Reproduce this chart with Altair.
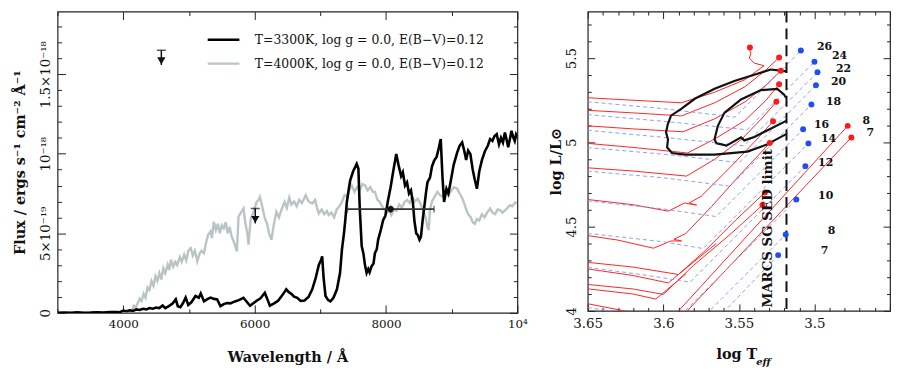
import altair as alt
import pandas as pd

FONT = "DejaVu Serif"

# ---------------- Left panel: model spectra (flux in units of 1e-19 erg/s/cm2/A) ----------------
spec_3300 = [
    (3000, 0.00), (3100, 0.02), (3200, 0.00), (3300, 0.03), (3400, 0.01), (3500, 0.02), (3600, 0.04),
    (3700, 0.02), (3800, 0.05), (3900, 0.06), (3950, 0.04), (4000, 0.14), (4050, 0.10), (4100, 0.16),
    (4150, 0.12), (4200, 0.22), (4250, 0.18), (4300, 0.26), (4350, 0.22), (4400, 0.30), (4450, 0.26),
    (4500, 0.34), (4550, 0.30), (4600, 0.46), (4640, 0.30), (4700, 0.44), (4750, 0.58), (4800, 0.85),
    (4830, 0.42), (4870, 0.36), (4910, 0.62), (4950, 0.96), (4990, 0.50), (5040, 0.68), (5100, 1.06),
    (5150, 0.95), (5180, 1.22), (5230, 0.72), (5280, 0.86), (5330, 0.96), (5380, 0.88), (5430, 0.85),
    (5480, 0.42), (5530, 0.55), (5580, 0.62), (5630, 0.60), (5700, 0.72), (5760, 0.80), (5830, 0.94),
    (5880, 0.70), (5930, 0.45), (5980, 0.60), (6030, 0.76), (6090, 0.92), (6155, 1.26), (6200, 0.80),
    (6231, 0.45), (6290, 0.58), (6357, 0.76), (6420, 1.10), (6482, 1.48), (6520, 1.30), (6560, 1.20),
    (6600, 1.02), (6650, 0.95), (6700, 0.75), (6760, 0.78), (6820, 1.00), (6877, 1.48), (6930, 2.20),
    (6978, 3.03), (7010, 3.30), (7028, 3.55), (7050, 2.20), (7079, 1.06), (7120, 0.80), (7154, 0.72),
    (7200, 0.95), (7253, 1.48), (7300, 2.50), (7329, 3.97), (7360, 5.00), (7380, 5.83), (7404, 6.97),
    (7430, 7.70), (7455, 8.33), (7500, 8.90), (7554, 9.36), (7580, 9.05), (7600, 6.60), (7630, 4.20),
    (7655, 3.75), (7680, 3.00), (7705, 2.51), (7730, 2.75), (7750, 2.55), (7780, 2.93), (7810, 3.10),
    (7831, 3.75), (7860, 4.00), (7880, 4.59), (7920, 5.20), (7956, 5.83), (7990, 6.10), (8031, 7.08),
    (8070, 7.90), (8110, 8.90), (8156, 9.98), (8190, 9.30), (8230, 8.60), (8256, 8.84), (8290, 8.00),
    (8320, 8.20), (8350, 7.50), (8380, 7.70), (8410, 6.90), (8432, 5.80), (8460, 5.00), (8482, 4.90),
    (8510, 4.60), (8532, 4.79), (8560, 5.90), (8583, 6.66), (8610, 7.60), (8632, 8.22), (8670, 8.50),
    (8700, 9.20), (8733, 9.57), (8770, 9.80), (8800, 10.30), (8833, 10.92), (8860, 8.50), (8884, 6.97),
    (8920, 7.80), (8950, 7.50), (8983, 8.22), (9030, 9.30), (9084, 10.09), (9120, 10.50), (9159, 10.71),
    (9190, 10.20), (9220, 9.60), (9250, 10.20), (9284, 9.98), (9320, 9.00), (9350, 8.40), (9384, 7.80),
    (9420, 8.90), (9460, 9.60), (9509, 10.19), (9550, 10.50), (9584, 10.92), (9620, 10.80), (9650, 11.10),
    (9685, 11.23), (9720, 10.60), (9750, 11.00), (9780, 10.70), (9810, 11.33), (9840, 10.80), (9860, 10.40),
    (9890, 11.00), (9910, 11.44), (9940, 11.00), (9960, 10.80), (9980, 11.20), (10000, 11.02),
]

spec_4000 = [
    (3000, 0.0), (3300, 0.0), (3600, 0.01), (3900, 0.02), (4000, 0.04), (4050, 0.08), (4100, 0.18),
    (4130, 0.12), (4160, 0.45), (4190, 0.35), (4220, 0.6), (4250, 0.9), (4280, 0.75), (4310, 1.2),
    (4340, 0.95), (4370, 1.6), (4400, 1.45), (4430, 2.0), (4460, 1.7), (4490, 2.3), (4520, 2.0),
    (4550, 2.5), (4580, 2.1), (4610, 2.8), (4640, 2.5), (4677, 3.03), (4700, 2.7), (4727, 3.34),
    (4760, 2.9), (4790, 3.2), (4820, 3.0), (4860, 3.5), (4890, 3.2), (4928, 3.66), (4960, 3.3),
    (4990, 3.9), (5027, 4.07), (5060, 3.6), (5090, 3.9), (5128, 3.24), (5160, 3.7), (5190, 3.9),
    (5229, 3.75), (5260, 4.4), (5290, 4.9), (5328, 5.11), (5350, 4.7), (5379, 5.73), (5410, 5.2),
    (5440, 5.6), (5470, 5.0), (5500, 5.5), (5530, 5.31), (5560, 5.7), (5590, 5.0), (5620, 5.4),
    (5650, 4.8), (5690, 4.4), (5730, 3.86), (5755, 6.04), (5790, 6.3), (5831, 6.56), (5860, 5.6),
    (5890, 5.0), (5906, 4.28), (5940, 5.9), (5980, 6.3), (6031, 6.97), (6060, 7.1), (6080, 7.29),
    (6110, 6.8), (6155, 5.93), (6190, 5.6), (6220, 5.0), (6256, 4.59), (6290, 5.5), (6331, 6.35),
    (6370, 6.0), (6410, 6.5), (6456, 6.97), (6490, 6.6), (6527, 7.25), (6560, 6.8), (6600, 7.0),
    (6640, 6.7), (6680, 7.1), (6720, 6.9), (6778, 7.39), (6820, 7.0), (6877, 6.87), (6920, 7.1),
    (6950, 6.6), (6978, 6.25), (7020, 6.5), (7060, 6.2), (7100, 6.4), (7128, 6.15), (7170, 6.3),
    (7210, 6.0), (7250, 6.5), (7290, 6.7), (7329, 6.97), (7370, 7.4), (7410, 7.3), (7450, 7.8),
    (7479, 8.01), (7520, 7.6), (7560, 7.9), (7600, 7.7), (7640, 8.1), (7680, 8.01), (7720, 7.7),
    (7760, 7.9), (7800, 7.6), (7831, 7.6), (7870, 7.1), (7900, 7.0), (7930, 6.77), (7970, 6.5),
    (8010, 6.3), (8050, 6.4), (8081, 6.15), (8120, 6.5), (8160, 6.4), (8200, 6.8), (8240, 6.6),
    (8282, 6.97), (8320, 7.1), (8360, 6.9), (8400, 7.3), (8440, 7.0), (8482, 7.18), (8520, 6.9),
    (8560, 6.5), (8600, 6.0), (8630, 5.4), (8650, 5.21), (8670, 6.5), (8700, 7.0), (8740, 7.3),
    (8783, 7.6), (8820, 7.4), (8860, 7.3), (8900, 7.6), (8940, 7.4), (8983, 7.6), (9030, 7.9),
    (9084, 7.8), (9120, 7.5), (9150, 7.3), (9184, 6.97), (9220, 6.5), (9250, 6.2), (9284, 6.04),
    (9320, 5.7), (9350, 5.6), (9384, 5.9), (9420, 5.8), (9460, 6.2), (9500, 6.0), (9540, 6.3),
    (9584, 6.56), (9620, 6.3), (9660, 6.2), (9700, 6.5), (9735, 6.46), (9770, 6.3), (9800, 6.4),
    (9850, 6.6), (9885, 6.77), (9920, 6.7), (9960, 6.9), (10000, 6.9),
]

model_names = ["T=3300K, log g = 0.0, E(B\u2212V)=0.12", "T=4000K, log g = 0.0, E(B\u2212V)=0.12"]
model_colors = ["#000000", "#b9c5c2"]

# photometric upper limits (arrow) and one photometric point with error bars
limit_wave = [4580, 6010]
limit_top = [16.50, 6.56]
limit_tip = [15.58, 5.62]

phot_wave = [8071]
phot_wave_lo = [7414]
phot_wave_hi = [8732]
phot_flux = [6.52]
phot_flux_lo = [6.30]
phot_flux_hi = [6.74]

wl_major = [4000, 6000, 8000, 10000]
wl_minor = [3000, 5000, 7000, 9000]
flux_major = [0, 5, 10, 15]
flux_minor = [v for v in range(1, 19) if v % 5 != 0]

# ---------------- Right panel: HR diagram ----------------
red_tracks = {
    "26": [(3.65, 5.265), (3.62, 5.25), (3.588, 5.235), (3.566, 5.298), (3.546, 5.372), (3.5333, 5.455),
           (3.5398, 5.47), (3.5431, 5.50), (3.542, 5.53), (3.5431, 5.55), (3.5427, 5.563)],
    "24": [(3.65, 5.19), (3.62, 5.175), (3.588, 5.157), (3.566, 5.235), (3.546, 5.33), (3.532, 5.43), (3.5234, 5.504)],
    "22": [(3.65, 5.098), (3.62, 5.08), (3.587, 5.063), (3.566, 5.14), (3.546, 5.24), (3.532, 5.34), (3.5223, 5.425)],
    "20": [(3.65, 4.994), (3.62, 4.97), (3.584, 4.937), (3.566, 5.02), (3.546, 5.13), (3.532, 5.25), (3.5234, 5.345)],
    "18": [(3.65, 4.849), (3.62, 4.83), (3.5846, 4.80), (3.566, 4.90), (3.548, 5.02), (3.534, 5.15), (3.5252, 5.241)],
    "16": [(3.65, 4.661), (3.62, 4.63), (3.5967, 4.592), (3.586, 4.64), (3.578, 4.628), (3.583, 4.64),
           (3.575, 4.68), (3.556, 4.85), (3.54, 5.00), (3.5274, 5.125)],
    "14": [(3.65, 4.447), (3.63, 4.42), (3.6065, 4.372), (3.595, 4.415), (3.588, 4.415), (3.593, 4.425),
           (3.585, 4.46), (3.568, 4.62), (3.55, 4.80), (3.5296, 4.996)],
    "12": [(3.65, 4.288), (3.62, 4.26), (3.59, 4.216), (3.572, 4.36), (3.552, 4.54), (3.5328, 4.702)],
    "12b": [(3.65, 4.249), (3.62, 4.21), (3.5967, 4.166), (3.58, 4.29), (3.565, 4.40)],
    "10": [(3.65, 4.157), (3.62, 4.13), (3.60, 4.098), (3.58, 4.27), (3.555, 4.46), (3.5344, 4.628)],
    "10b": [(3.65, 4.131), (3.62, 4.10), (3.605, 4.07), (3.585, 4.22)],
    "8": [(3.66, 4.06), (3.62, 3.99), (3.595, 3.95), (3.478, 5.098)],
    "7": [(3.66, 3.97), (3.60, 3.85), (3.4756, 5.029)],
}

blue_tracks = {
    "26": [(3.65, 5.241), (3.60, 5.20), (3.5525, 5.15), (3.509, 5.545)],
    "24": [(3.65, 5.165), (3.60, 5.125), (3.5446, 5.075), (3.500, 5.478)],
    "22": [(3.65, 5.072), (3.60, 5.03), (3.5467, 4.98), (3.498, 5.416)],
    "20": [(3.65, 4.969), (3.60, 4.93), (3.5497, 4.88), (3.499, 5.339)],
    "18": [(3.65, 4.829), (3.60, 4.79), (3.5559, 4.74), (3.502, 5.225)],
    "16": [(3.65, 4.653), (3.60, 4.605), (3.5651, 4.56), (3.5075, 5.078)],
    "14": [(3.65, 4.46), (3.60, 4.41), (3.5737, 4.37), (3.504, 4.994)],
    "12": [(3.65, 4.259), (3.61, 4.21), (3.5823, 4.17), (3.506, 4.859)],
    "10": [(3.65, 4.02), (3.62, 3.98), (3.5935, 3.93), (3.512, 4.661)],
    "8": [(3.575, 3.95), (3.519, 4.453)],
    "7": [(3.57, 3.90), (3.524, 4.331)],
}

red_dot_logT = [3.5427, 3.5234, 3.5223, 3.5234, 3.5252, 3.5274, 3.5296, 3.5328, 3.5344, 3.478, 3.4756]
red_dot_logL = [5.563, 5.504, 5.425, 5.345, 5.241, 5.125, 4.996, 4.702, 4.628, 5.098, 5.029]

blue_dot_logT = [3.509, 3.500, 3.498, 3.499, 3.502, 3.5075, 3.504, 3.506, 3.512, 3.519, 3.524]
blue_dot_logL = [5.545, 5.478, 5.416, 5.339, 5.225, 5.078, 4.994, 4.859, 4.661, 4.453, 4.331]

mass_labels = ["26", "24", "22", "20", "18", "16", "14", "12", "10", "8", "7", "8", "7"]
label_logT = [3.4933, 3.4834, 3.4808, 3.4841, 3.4874, 3.4953, 3.4907, 3.4926, 3.4926, 3.4887, 3.4933, 3.4657, 3.4631]
label_logL = [5.568, 5.512, 5.437, 5.359, 5.241, 5.100, 5.018, 4.876, 4.682, 4.476, 4.353, 5.124, 5.053]

contour_outer = [(3.5187, 5.4218), (3.5289, 5.4324), (3.5398, 5.4018), (3.5530, 5.3647), (3.5661, 5.3176),
                 (3.5792, 5.2588), (3.5879, 5.2000), (3.5949, 5.1588), (3.5971, 5.1059), (3.5982, 5.0588),
                 (3.5969, 5.0176), (3.5975, 4.9706), (3.5943, 4.9371), (3.5857, 4.9276), (3.5661, 4.9276),
                 (3.5444, 4.9453), (3.5320, 4.9853), (3.5187, 5.0488)]
contour_inner = [(3.5187, 5.2647), (3.5202, 5.2841), (3.5246, 5.3176), (3.5354, 5.3100), (3.5486, 5.2547),
                 (3.5595, 5.1765), (3.5639, 5.0982), (3.5661, 5.0194), (3.5648, 4.9941), (3.5582, 4.9806),
                 (3.5486, 5.0294), (3.5464, 5.0118), (3.5398, 5.0324), (3.5300, 5.0765), (3.5187, 5.1276)]

sed_limit_logT = 3.5185
sed_limit_text = "MARCS SG SED limit"

logT_major = [3.45, 3.5, 3.55, 3.6, 3.65]
logT_minor = [round(3.45 + 0.01 * i, 2) for i in range(21) if i % 5 != 0]
logL_major = [4.0, 4.5, 5.0, 5.5]
logL_minor = [round(4.0 + 0.1 * i, 1) for i in range(18) if i % 5 != 0]

# ---------------- build tables ----------------
spec_df = pd.DataFrame(
    [{"wave": w, "flux": f, "model": model_names[0]} for w, f in spec_3300]
    + [{"wave": w, "flux": f, "model": model_names[1]} for w, f in spec_4000]
)
lim_df = pd.DataFrame({"wave": limit_wave, "top": limit_top, "tip": limit_tip})
phot_df = pd.DataFrame({"wave": phot_wave, "lo": phot_wave_lo, "hi": phot_wave_hi,
                        "flux": phot_flux, "flo": phot_flux_lo, "fhi": phot_flux_hi})


def track_frame(tracks, kind):
    rows = []
    for name, pts in tracks.items():
        for i, (t, l) in enumerate(pts):
            rows.append({"track": kind + name, "i": i, "logT": t, "logL": l})
    return pd.DataFrame(rows)


red_df = track_frame(red_tracks, "r")
blue_df = track_frame(blue_tracks, "b")
cont_df = track_frame({"outer": contour_outer, "inner": contour_inner}, "c")
rdot_df = pd.DataFrame({"logT": red_dot_logT, "logL": red_dot_logL})
bdot_df = pd.DataFrame({"logT": blue_dot_logT, "logL": blue_dot_logL})
lab_df = pd.DataFrame({"logT": label_logT, "logL": label_logL, "t": mass_labels})

common_ax = dict(domain=False, grid=False, tickColor="#222", tickWidth=1, labelFlush=False,
                 labelOverlap=False, labelFont=FONT, labelColor="#111", titleFont=FONT,
                 titleColor="#111", titleFontWeight="bold")


def tick_axis(orient, values, size, **kw):
    """Axis drawn inside the frame: offset inward by the tick length so ticks point in."""
    opts = dict(common_ax)
    opts.update(kw)
    if "labelExpr" not in kw:
        opts["labels"] = False
        opts["title"] = None
    return alt.Axis(orient=orient, values=values, tickSize=size, offset=-size, **opts)


def ghost(df, xf, yf, xs, ys, xaxis, yaxis):
    return alt.Chart(df).mark_point(opacity=0).encode(
        x=alt.X(xf, scale=xs, axis=xaxis), y=alt.Y(yf, scale=ys, axis=yaxis))


# ---------------- left panel ----------------
xs_l = alt.Scale(domain=[3000, 10000], nice=False, zero=False)
ys_l = alt.Scale(domain=[0, 18.93], nice=False, zero=False)

ax_wl_bottom = tick_axis("bottom", wl_major, 8, title="Wavelength / \u00c5",
                         labelExpr="datum.value == 10000 ? '10\u2074' : format(datum.value, 'd')",
                         labelPadding=6, labelFontSize=12, titleFontSize=14.5, titlePadding=21)
ax_fl_left = tick_axis("left", flux_major, 8, title="Flux / ergs s\u207b\u00b9 cm\u207b\u00b2 \u00c5\u207b\u00b9",
                       labelExpr="datum.value == 0 ? '0' : datum.value == 5 ? '5\u00d710\u207b\u00b9\u2079' : datum.value == 10 ? '10\u207b\u00b9\u2078' : '1.5\u00d710\u207b\u00b9\u2078'",
                       labelAngle=270, labelPadding=5, labelFontSize=13.5, titleFontSize=14.5, titlePadding=11)

legend = alt.Legend(orient="none", legendX=158, legendY=19, title=None, symbolType="M-2,0H2",
                    symbolSize=256, symbolStrokeWidth=2.5, labelFont=FONT, labelFontSize=12.5,
                    labelColor="#111", labelLimit=500, labelOffset=22, rowPadding=8, padding=0)
color = alt.Color("model:N", scale=alt.Scale(domain=model_names, range=model_colors), legend=legend)

gray_line = alt.Chart(spec_df).transform_filter(alt.datum.model == model_names[1]).mark_line(
    strokeWidth=2.4, clip=True).encode(
    x=alt.X("wave:Q", scale=xs_l, axis=ax_wl_bottom),
    y=alt.Y("flux:Q", scale=ys_l, axis=ax_fl_left),
    color=color)
black_line = alt.Chart(spec_df).transform_filter(alt.datum.model == model_names[0]).mark_line(
    strokeWidth=2.6, clip=True).encode(
    x=alt.X("wave:Q", scale=xs_l, axis=None),
    y=alt.Y("flux:Q", scale=ys_l, axis=None),
    color=color)

lim_base = alt.Chart(lim_df)
lim_rule = lim_base.mark_rule(color="#111", strokeWidth=1.5).encode(
    x=alt.X("wave:Q", scale=xs_l, axis=None), y=alt.Y("top:Q", scale=ys_l, axis=None), y2="tip:Q")
lim_cap = lim_base.mark_tick(color="#111", orient="horizontal", size=9, thickness=1.5).encode(
    x=alt.X("wave:Q", scale=xs_l, axis=None), y=alt.Y("top:Q", scale=ys_l, axis=None))
lim_head = lim_base.mark_point(shape="triangle-down", filled=True, size=70, color="#111", opacity=1,
                               yOffset=-4).encode(
    x=alt.X("wave:Q", scale=xs_l, axis=None), y=alt.Y("tip:Q", scale=ys_l, axis=None))

phot_base = alt.Chart(phot_df)
phot_xerr = phot_base.mark_rule(color="#333", strokeWidth=1.6).encode(
    x=alt.X("lo:Q", scale=xs_l, axis=None), x2="hi:Q", y=alt.Y("flux:Q", scale=ys_l, axis=None))
phot_caps_lo = phot_base.mark_tick(color="#333", orient="vertical", size=7, thickness=1.4).encode(
    x=alt.X("lo:Q", scale=xs_l, axis=None), y=alt.Y("flux:Q", scale=ys_l, axis=None))
phot_caps_hi = phot_base.mark_tick(color="#333", orient="vertical", size=7, thickness=1.4).encode(
    x=alt.X("hi:Q", scale=xs_l, axis=None), y=alt.Y("flux:Q", scale=ys_l, axis=None))
phot_yerr = phot_base.mark_rule(color="#111", strokeWidth=1.4).encode(
    x=alt.X("wave:Q", scale=xs_l, axis=None), y=alt.Y("flo:Q", scale=ys_l, axis=None), y2="fhi:Q")
phot_dot = phot_base.mark_circle(color="#111", size=40, opacity=1).encode(
    x=alt.X("wave:Q", scale=xs_l, axis=None), y=alt.Y("flux:Q", scale=ys_l, axis=None))

g_l1 = ghost(lim_df, "wave:Q", "top:Q", xs_l, ys_l, tick_axis("top", wl_major, 8), tick_axis("right", flux_major, 8))
g_l2 = ghost(lim_df, "wave:Q", "top:Q", xs_l, ys_l, tick_axis("bottom", wl_minor, 4), tick_axis("left", flux_minor, 4))
g_l3 = ghost(lim_df, "wave:Q", "top:Q", xs_l, ys_l, tick_axis("top", wl_minor, 4), tick_axis("right", flux_minor, 4))

left = alt.layer(gray_line, black_line, lim_rule, lim_cap, lim_head, phot_xerr, phot_caps_lo,
                 phot_caps_hi, phot_yerr, phot_dot, g_l1, g_l2, g_l3).resolve_axis(
    x="independent", y="independent").properties(width=464, height=304)

# ---------------- right panel ----------------
xs_r = alt.Scale(domain=[3.45, 3.65], reverse=True, nice=False, zero=False)
ys_r = alt.Scale(domain=[4.0, 5.776], nice=False, zero=False)

ax_t_bottom = tick_axis("bottom", logT_major, 7, title="log T", titleX=150,
                        labelExpr="datum.value > 3.46 ? format(datum.value, '.2~f') : ''",
                        labelPadding=6, labelFontSize=13.5, titleFontSize=14.5, titlePadding=18)
ax_l_left = tick_axis("left", logL_major, 7, title="log L/L\u2299",
                      labelExpr="format(datum.value, '.1~f')",
                      labelAngle=270, labelPadding=9, labelFontSize=13.5, titleFontSize=14.5, titlePadding=2)


def xr(axis=None):
    return alt.X("logT:Q", scale=xs_r, axis=axis)


def yr(axis=None):
    return alt.Y("logL:Q", scale=ys_r, axis=axis)


red_lines = alt.Chart(red_df).mark_line(color="#ff2424", strokeWidth=1, clip=True).encode(
    x=xr(ax_t_bottom), y=yr(ax_l_left), detail="track:N", order="i:Q")
blue_lines = alt.Chart(blue_df).mark_line(color="#8d9ef0", strokeWidth=1, strokeDash=[4, 3], clip=True).encode(
    x=xr(), y=yr(), detail="track:N", order="i:Q")
contours = alt.Chart(cont_df).mark_line(color="#111", strokeWidth=2.2, clip=True).encode(
    x=xr(), y=yr(), detail="track:N", order="i:Q")
limit_rule = alt.Chart(pd.DataFrame({"logT": [sed_limit_logT]})).mark_rule(
    color="#111", strokeWidth=2, strokeDash=[11, 6]).encode(x=xr())
red_dots = alt.Chart(rdot_df).mark_circle(color="#ff1a1a", size=36, opacity=1).encode(x=xr(), y=yr())
blue_dots = alt.Chart(bdot_df).mark_circle(color="#1f4ff0", size=36, opacity=1).encode(x=xr(), y=yr())
mass_text = alt.Chart(lab_df).mark_text(font=FONT, fontWeight="bold", fontSize=11, color="#111").encode(
    x=xr(), y=yr(), text="t:N")
sed_text = alt.Chart(pd.DataFrame({"logT": [3.5305], "logL": [4.49], "t": [sed_limit_text]})).mark_text(
    angle=270, font=FONT, fontWeight="bold", fontSize=13.5, color="#111").encode(x=xr(), y=yr(), text="t:N")
eff_text = alt.Chart(pd.DataFrame({"t": ["eff"]})).mark_text(
    align="left", baseline="middle", font=FONT, fontStyle="italic", fontWeight="bold", fontSize=10,
    color="#111").encode(x=alt.value(170), y=alt.value(354), text="t:N")

g_r1 = ghost(bdot_df, "logT:Q", "logL:Q", xs_r, ys_r, tick_axis("top", logT_major, 7), tick_axis("right", logL_major, 7))
g_r2 = ghost(bdot_df, "logT:Q", "logL:Q", xs_r, ys_r, tick_axis("bottom", logT_minor, 3.5), tick_axis("left", logL_minor, 3.5))
g_r3 = ghost(bdot_df, "logT:Q", "logL:Q", xs_r, ys_r, tick_axis("top", logT_minor, 3.5), tick_axis("right", logL_minor, 3.5))

right = alt.layer(red_lines, blue_lines, contours, limit_rule, red_dots, blue_dots, mass_text,
                  sed_text, eff_text, g_r1, g_r2, g_r3).resolve_axis(
    x="independent", y="independent").properties(width=305, height=302)

chart = alt.hconcat(left, right, spacing=71, bounds="flush").properties(
    padding={"left": 4, "top": 0, "right": 0, "bottom": 0}
).configure_view(stroke="#222", strokeWidth=1.2)

chart.save("out.html", embed_options={"renderer": "svg", "actions": False})
